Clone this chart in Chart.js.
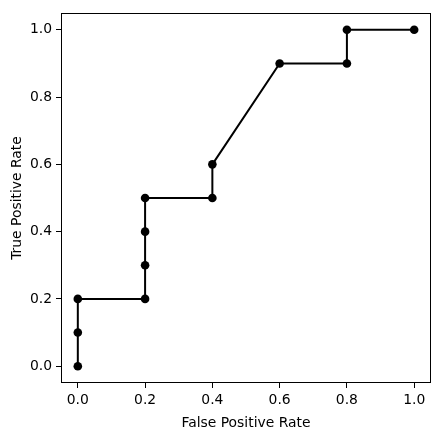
<!DOCTYPE html>
<html>
<head>
<meta charset="utf-8">
<script src="https://cdn.jsdelivr.net/npm/chart.js@4.4.0/dist/chart.umd.min.js"></script>
<style>
  body { margin: 0; background: #fff; }
  #wrap { width: 444px; height: 436px; }
</style>
</head>
<body>
<div id="wrap"><canvas id="rocChart" width="444" height="436"></canvas></div>
<script>
const fpr = [0.0, 0.0, 0.0, 0.2, 0.2, 0.2, 0.2, 0.4, 0.4, 0.6, 0.8, 0.8, 1.0];
const tpr = [0.0, 0.1, 0.2, 0.2, 0.3, 0.4, 0.5, 0.5, 0.6, 0.9, 0.9, 1.0, 1.0];
const tickValues = [0.0, 0.2, 0.4, 0.6, 0.8, 1.0];

const font = { family: "DejaVu Sans", size: 13.9 };

// matplotlib style box around the plot area
const frameBox = {
  id: "frameBox",
  afterDraw(chart) {
    const a = chart.chartArea;
    const c = chart.ctx;
    c.save();
    c.strokeStyle = "#000";
    c.lineWidth = 1;
    c.strokeRect(Math.round(a.left) + 0.5, Math.round(a.top) + 0.5,
      Math.round(a.right - a.left) - 1, Math.round(a.bottom - a.top) - 1);
    c.restore();
  }
};

const points = fpr.map((x, i) => ({ x: x, y: tpr[i] }));

const axisCommon = (title, titlePad) => ({
  type: "linear",
  min: -0.05,
  max: 1.05,
  afterBuildTicks: (scale) => {
    scale.ticks = tickValues.map((v) => ({ value: v }));
  },
  grid: {
    display: true,
    drawOnChartArea: false,
    drawTicks: true,
    tickLength: 5,
    tickColor: "#000",
    tickWidth: 1
  },
  border: { display: false },
  ticks: {
    color: "#000",
    font: font,
    padding: 4,
    maxRotation: 0,
    callback: (v) => Number(v).toFixed(1)
  },
  title: {
    display: true,
    text: title,
    color: "#000",
    font: font,
    padding: { top: titlePad, bottom: 4 }
  }
});

const xAxis = axisCommon("False Positive Rate", 6);
xAxis.afterFit = (scale) => { scale.height = 53; };
const yAxis = axisCommon("True Positive Rate", 9);
yAxis.afterFit = (scale) => { scale.width = 61; };

new Chart(document.getElementById("rocChart"), {
  type: "scatter",
  data: {
    datasets: [
      {
        data: points,
        showLine: true,
        borderColor: "#000",
        backgroundColor: "#000",
        borderWidth: 2,
        pointRadius: 4.3,
        pointHoverRadius: 4.3,
        pointBorderWidth: 0,
        tension: 0
      }
    ]
  },
  options: {
    responsive: false,
    animation: false,
    layout: { padding: { left: 0, top: 13, right: 13, bottom: 0 } },
    plugins: {
      legend: { display: false },
      tooltip: { enabled: false }
    },
    scales: { x: xAxis, y: yAxis }
  },
  plugins: [frameBox]
});
</script>
</body>
</html>
